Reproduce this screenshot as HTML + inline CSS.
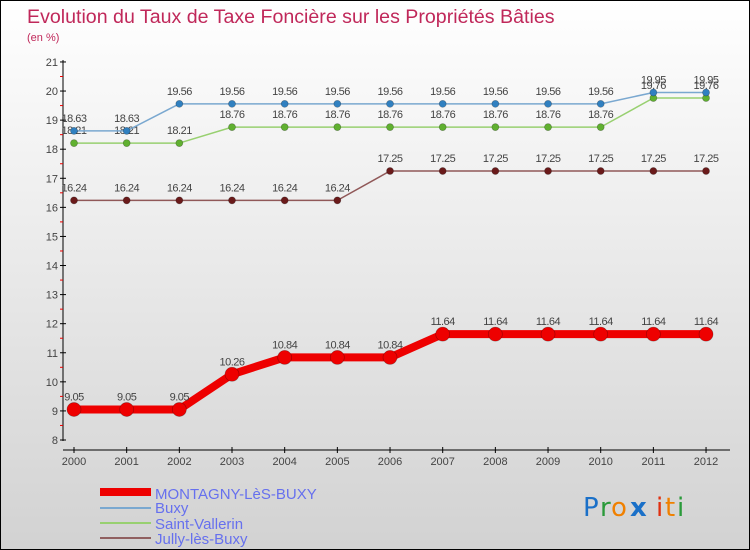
<!DOCTYPE html>
<html><head><meta charset="utf-8"><style>
body{margin:0}
#c{width:750px;height:550px;position:relative;overflow:hidden;box-sizing:border-box;border:1px solid #000;background:linear-gradient(#ffffff,#d2d2d2);font-family:"Liberation Sans",sans-serif}
</style></head><body>
<div id="c">
<svg id="s" width="750" height="550" style="position:absolute;left:-1px;top:-1px">
<text x="27" y="23" font-size="19.6" fill="#c0285a">Evolution du Taux de Taxe Foncière sur les Propriétés Bâties</text>
<text x="27" y="41" font-size="11" fill="#c0285a">(en %)</text>
<g id="axes"></g><g id="series"></g>
<g>
<rect x="100" y="488" width="51" height="8" fill="#e00"/>
<text x="155" y="499" font-size="15" fill="#6670ee">MONTAGNY-LèS-BUXY</text>
<rect x="100" y="507" width="51" height="2" fill="#7aa8d0"/>
<text x="155" y="513" font-size="15" fill="#6670ee">Buxy</text>
<rect x="100" y="522" width="51" height="2" fill="#98d070"/>
<text x="155" y="529" font-size="15" fill="#6670ee">Saint-Vallerin</text>
<rect x="100" y="537" width="51" height="2" fill="#906060"/>
<text x="155" y="544" font-size="15" fill="#6670ee">Jully-lès-Buxy</text>
</g>
<g font-size="26" font-family="'DejaVu Sans',sans-serif">
<text x="583" y="516" fill="#1a70c8">P</text><text x="600" y="516" fill="#2a9a3a">r</text><text x="611" y="516" fill="#f08000">o</text><text x="630" y="516" fill="#1a70c8" font-weight="bold">x</text><text x="656" y="516" fill="#e03010">i</text><text x="665" y="516" fill="#f08000">t</text><text x="677" y="516" fill="#2a9a3a">i</text>
</g>
</svg>
</div>
<script>
const years=[2000,2001,2002,2003,2004,2005,2006,2007,2008,2009,2010,2011,2012];
const montagny=[9.05,9.05,9.05,10.26,10.84,10.84,10.84,11.64,11.64,11.64,11.64,11.64,11.64];
const buxy=[18.63,18.63,19.56,19.56,19.56,19.56,19.56,19.56,19.56,19.56,19.56,19.95,19.95];
const vallerin=[18.21,18.21,18.21,18.76,18.76,18.76,18.76,18.76,18.76,18.76,18.76,19.76,19.76];
const jully=[16.24,16.24,16.24,16.24,16.24,16.24,17.25,17.25,17.25,17.25,17.25,17.25,17.25];
const yTicks=[8,9,10,11,12,13,14,15,16,17,18,19,20,21];
const NS="http://www.w3.org/2000/svg";
const X=i=>74+i*52.67, Y=v=>440-(v-8)*29.08;
function mk(t,a,p){const e=document.createElementNS(NS,t);for(const k in a)e.setAttribute(k,a[k]);p.appendChild(e);return e;}
const ax=document.getElementById('axes');
let l=mk('line',{x1:63,y1:60,x2:63,y2:441,stroke:'#000'},ax);


yTicks.forEach(v=>{
  mk('line',{x1:60,x2:66,y1:Y(v),y2:Y(v),stroke:'#000'},ax);
  if(v<21)mk('line',{x1:60,x2:63,y1:Y(v+0.5),y2:Y(v+0.5),stroke:'#e00'},ax);
  const t=mk('text',{x:58,y:Y(v)+4,'font-size':11,'text-anchor':'end',fill:'#444'},ax);t.textContent=v;
  
  
});
l=mk('line',{x1:63,y1:450,x2:730,y2:450,stroke:'#000'},ax);


years.forEach((y,i)=>{
  mk('line',{x1:X(i),x2:X(i),y1:447,y2:453,stroke:'#000'},ax);
  const t=mk('text',{x:X(i),y:465,'font-size':11,'text-anchor':'middle',fill:'#444'},ax);t.textContent=y;
  
  
});
const sg=document.getElementById('series');
function draw(name,vals,color,w,r,dot,fs){
  const g=mk('g',{},sg);
  
  
  mk('polyline',{points:vals.map((v,i)=>X(i)+','+Y(v)).join(' '),fill:'none',stroke:color,'stroke-width':w,'stroke-linejoin':'round'},g);
  vals.forEach((v,i)=>{
    const c=mk('circle',{cx:X(i),cy:Y(v),r:r,fill:dot,stroke:'rgba(0,0,0,0.3)','stroke-width':0.7},g);
    
    
    const t=mk('text',{x:X(i),y:Y(v)-9,'font-size':fs,'text-anchor':'middle',fill:'#444','letter-spacing':'-0.5'},g);t.textContent=v;
  });
}
draw('jully',jully,'#905858',1.5,3.5,'#6a1a1a',11);
draw('saint-vallerin',vallerin,'#98d070',1.5,3.5,'#60b030',11);
draw('buxy',buxy,'#7aa8d0',1.5,3.5,'#3080c0',11);
draw('montagny',montagny,'#e00',8,7,'#e00',11);
</script>
</body></html>
